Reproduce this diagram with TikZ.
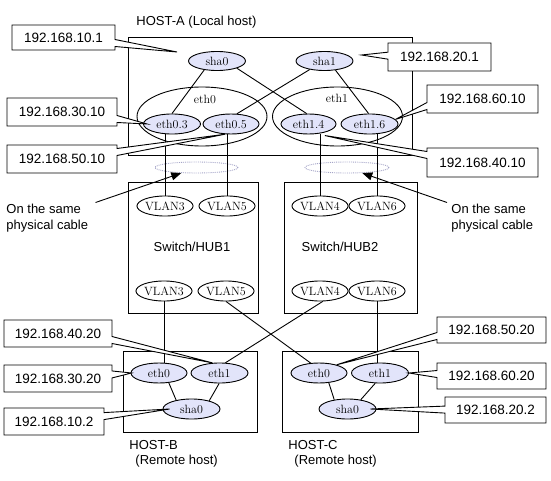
\documentclass[tikz,border=0pt]{standalone}
\usepackage{fontspec}
\setsansfont{Liberation Sans}
\usetikzlibrary{arrows.meta,shapes.geometric,shapes.callouts}
\definecolor{ifcfill}{RGB}{226,228,250}
\definecolor{cabledot}{RGB}{165,165,200}

\begin{document}
\begin{tikzpicture}[x=1pt, y=-1pt, line width=0.9pt,
  hostbox/.style={rectangle, draw, line width=0.9pt},
  ifc/.style={ellipse, draw, fill=ifcfill, inner sep=0pt,
    minimum width=57pt, minimum height=20pt,
    font=\fontsize{12}{14}\selectfont},
  vlan/.style={ellipse, draw, fill=white, inner sep=0pt,
    minimum width=47pt, minimum height=20pt,
    font=\fontsize{12}{14}\selectfont},
  grp/.style={ellipse, draw, minimum width=130pt, minimum height=59pt},
  cable/.style={ellipse, draw=cabledot, densely dotted,
    minimum width=83pt, minimum height=11pt},
  ipbox/.style={rectangle callout, draw, fill=white,
    callout pointer width=7pt, inner sep=0pt,
    font=\sffamily\fontsize{13.5}{16}\selectfont},
  lbl/.style={font=\sffamily\fontsize{13}{16}\selectfont, inner sep=1pt},
  ifname/.style={font=\fontsize{12}{14}\selectfont, inner sep=1pt},
  cablearrow/.style={-{Triangle[length=10pt,width=8pt]}, line width=0.9pt}
]
\useasboundingbox (0,0) rectangle (551,481);
% boxes
\node[hostbox, minimum width=284pt, minimum height=118pt] (hostA) at (270,96) {};
\node[hostbox, minimum width=130pt, minimum height=131pt] (hub1) at (193,247.5) {};
\node[hostbox, minimum width=133pt, minimum height=131pt] (hub2) at (350.5,247.5) {};
\node[hostbox, minimum width=134pt, minimum height=81pt] (hostB) at (190,391.5) {};
\node[hostbox, minimum width=136pt, minimum height=81pt] (hostC) at (350,391.5) {};
\node[lbl, anchor=west] (hostAname) at (135,22) {HOST-A (Local host)};
\node[lbl] (hub1name) at (192,247) {Switch/HUB1};
\node[lbl] (hub2name) at (340,247) {Switch/HUB2};
\node[lbl, anchor=west] (hostBname) at (128,445) {HOST-B};
\node[lbl, anchor=west] (hostBrole) at (134,461) {(Remote host)};
\node[lbl, anchor=west] (hostCname) at (287,445) {HOST-C};
\node[lbl, anchor=west] (hostCrole) at (293,461) {(Remote host)};
% HOST-A interfaces
\node[grp] (g0) at (202,116.5) {};
\node[grp] (g1) at (337.5,116.5) {};
\node[ifname] (g0name) at (205,99) {eth0};
\node[ifname] (g1name) at (337,98) {eth1};
\node[ifc, minimum height=19pt] (shaA0) at (217,61) {sha0};
\node[ifc, minimum height=19pt] (shaA1) at (324.5,61) {sha1};
\node[ifc] (e03) at (172,124) {eth0.3};
\node[ifc, minimum width=56pt] (e05) at (231,124) {eth0.5};
\node[ifc, minimum width=55pt] (e14) at (308.5,124) {eth1.4};
\node[ifc] (e16) at (369.5,124) {eth1.6};
\draw (shaA0.-145) -- (e03.north);
\draw (shaA0.-20) -- (e14.100);
\draw (shaA1.-150) -- (e05.60);
\draw (shaA1.-40) -- (e16.95);
% cables
\node[cable] (cabL) at (196.5,167.5) {};
\node[cable, minimum width=84pt] (cabR) at (347,167.5) {};
% switches
\node[vlan] (v3a) at (165,206) {VLAN3};
\node[vlan] (v5a) at (227,206) {VLAN5};
\node[vlan] (v4a) at (320,206) {VLAN4};
\node[vlan] (v6a) at (377,206) {VLAN6};
\node[vlan] (v3b) at (164,291) {VLAN3};
\node[vlan] (v5b) at (226,291) {VLAN5};
\node[vlan] (v4b) at (320,291) {VLAN4};
\node[vlan] (v6b) at (377,291) {VLAN6};
\foreach \a/\b in {v3a/e03, v5a/e05, v4a/e14, v6a/e16} {\draw (\a.north) -- (\a.north |- \b.south);}
% HOST-B and HOST-C interfaces
\node[ifc, minimum width=56pt] (b0) at (159,373) {eth0};
\node[ifc] (b1) at (219.5,373) {eth1};
\node[ifc] (bs) at (191.5,409) {sha0};
\node[ifc, minimum width=56pt] (c0) at (319,373) {eth0};
\node[ifc] (c1) at (380,373) {eth1};
\node[ifc] (cs) at (347.5,409) {sha0};
\draw (b0.-45) -- (bs.150);
\draw (b1.-92) -- (bs.25);
\draw (c0.-45) -- (cs.145);
\draw (c1.-115) -- (cs.35);
\draw (v3b.south) -- (v3b.south |- b0.north);
\draw (v6b.south) -- (v6b.south |- c1.north);
\draw (v5b.south) -- (c0.130);
\draw (v4b.-75) -- (b1.60);
% physical cable notes
\node[lbl, anchor=west, align=left] (noteL) at (5,218) {On the same\\physical cable};
\node[lbl, anchor=west, align=left] (noteR) at (450,218) {On the same\\physical cable};
\draw[cablearrow] ([xshift=6pt]noteL.north east) -- (cabL.200);
\draw[cablearrow] ([xshift=-3pt]noteR.north west) -- (cabR.-20);
% addresses
\node[ipbox, minimum width=103pt, minimum height=25pt,
  callout absolute pointer={([xshift=-11pt,yshift=9pt]shaA0.west)}] (ip101) at (63.5,37.5) {192.168.10.1};
\node[ipbox, minimum width=110pt, minimum height=28pt,
  callout absolute pointer={([xshift=4pt]e03.west)}] (ip3010) at (62,112) {192.168.30.10};
\node[ipbox, minimum width=110pt, minimum height=28pt,
  callout absolute pointer={(e05.-120)}] (ip5010) at (62,159) {192.168.50.10};
\node[ipbox, minimum width=103pt, minimum height=28pt,
  callout absolute pointer={([xshift=8pt,yshift=6pt]shaA1.east)}] (ip201) at (439.5,57) {192.168.20.1};
\node[ipbox, minimum width=111pt, minimum height=28pt,
  callout absolute pointer={(e16.10)}] (ip6010) at (482.5,99) {192.168.60.10};
\node[ipbox, minimum width=111pt, minimum height=29pt,
  callout absolute pointer={([xshift=5pt,yshift=-2pt]e14.-40)}] (ip4010) at (482.5,162.5) {192.168.40.10};
\node[ipbox, minimum width=108pt, minimum height=27pt,
  callout absolute pointer={(b1.125)}] (ip4020) at (58,333.5) {192.168.40.20};
\node[ipbox, minimum width=108pt, minimum height=27pt,
  callout absolute pointer={([xshift=1pt]b0.west)}] (ip3020) at (58,378.5) {192.168.30.20};
\node[ipbox, minimum width=100pt, minimum height=27pt,
  callout absolute pointer={([xshift=7pt]bs.west)}] (ip102) at (54,421.5) {192.168.10.2};
\node[ipbox, minimum width=109pt, minimum height=26pt,
  callout absolute pointer={(c0.25)}] (ip5020) at (491.5,330) {192.168.50.20};
\node[ipbox, minimum width=109pt, minimum height=26pt,
  callout absolute pointer={(c1.east)}] (ip6020) at (491.5,376) {192.168.60.20};
\node[ipbox, minimum width=101pt, minimum height=26pt,
  callout absolute pointer={([xshift=-6pt]cs.east)}] (ip202) at (495.5,410) {192.168.20.2};
\end{tikzpicture}
\end{document}
